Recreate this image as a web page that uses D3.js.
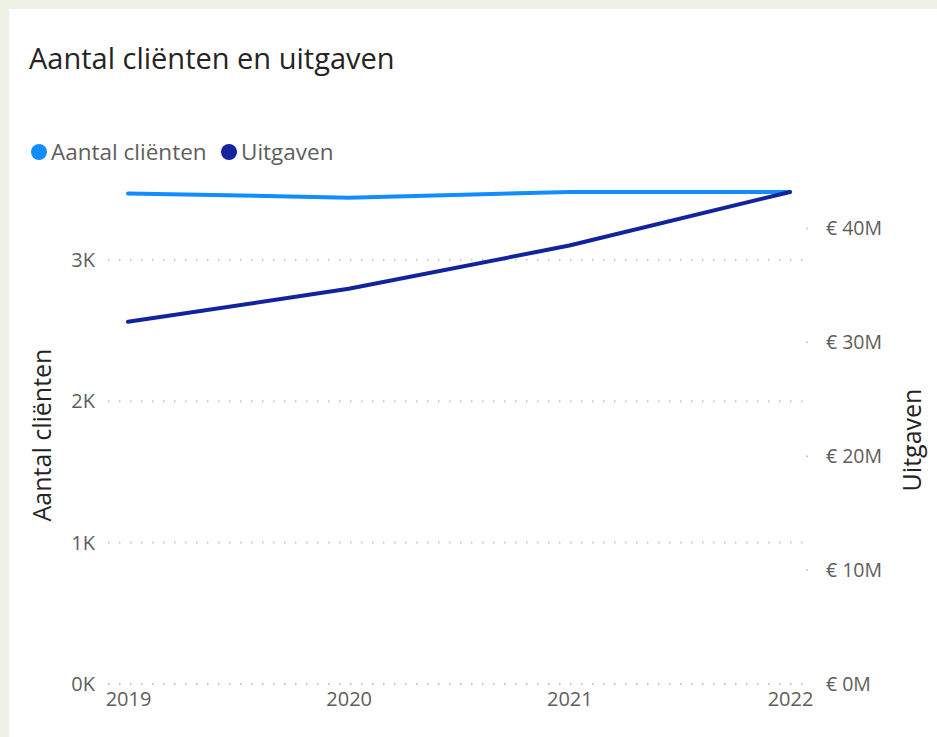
<!DOCTYPE html>
<html>
<head>
<meta charset="utf-8">
<script src="https://cdn.jsdelivr.net/npm/d3@7"></script>
<style>
  html, body { margin: 0; padding: 0; background: #eef2e4; }
  svg { display: block; }
  text { font-family: "Open Sans", "Noto Sans", sans-serif; }
</style>
</head>
<body>
<svg id="chart" width="937" height="737"></svg>
<script>
// ---- data ----
const years = ["2019", "2020", "2021", "2022"];
const clienten = [3470, 3440, 3480, 3480];
const uitgaven = [31.8e6, 34.7e6, 38.5e6, 43.2e6];
const leftTicks = [0, 1000, 2000, 3000];
const leftTickLabels = ["0K", "1K", "2K", "3K"];
const rightTicks = [0, 10e6, 20e6, 30e6, 40e6];
const rightTickLabels = ["€ 0M", "€ 10M", "€ 20M", "€ 30M", "€ 40M"];
const seriesNames = ["Aantal cliënten", "Uitgaven"];
const seriesColors = ["#118DFF", "#12239E"];

const svg = d3.select("#chart");

// panel
svg.append("rect").attr("x", 9).attr("y", 9).attr("width", 940).attr("height", 740).attr("fill", "#ffffff");

// title
svg.append("text").attr("x", 29).attr("y", 69)
  .attr("font-size", 29).attr("fill", "#252423")
  .text("Aantal cliënten en uitgaven");

// legend
const legend = svg.append("g");
const lg1 = legend.append("g");
lg1.append("circle").attr("cx", 39).attr("cy", 152).attr("r", 8).attr("fill", seriesColors[0]);
lg1.append("text").attr("x", 51).attr("y", 160).attr("font-size", 22.5).attr("fill", "#605E5C").text(seriesNames[0]);
const lg2 = legend.append("g");
lg2.append("circle").attr("cx", 229).attr("cy", 152).attr("r", 8).attr("fill", seriesColors[1]);
lg2.append("text").attr("x", 241).attr("y", 160).attr("font-size", 22.5).attr("fill", "#605E5C").text(seriesNames[1]);

// scales
const x = d3.scalePoint().domain(years).range([128, 790]);
const yL = d3.scaleLinear().domain([0, d3.max(clienten)]).range([684, 192]);
const yR = d3.scaleLinear().domain([0, d3.max(uitgaven)]).range([684, 192]);

// gridlines (left axis)
svg.append("g").selectAll("line").data(leftTicks).join("line")
  .attr("x1", 108).attr("x2", 808)
  .attr("y1", d => yL(d)).attr("y2", d => yL(d))
  .attr("stroke", "#C8C6C4").attr("stroke-width", 2)
  .attr("stroke-dasharray", "1.5,9.5");

// right tick stubs
svg.append("g").selectAll("circle").data(rightTicks.slice(1)).join("circle")
  .attr("cx", 807).attr("cy", d => yR(d)).attr("r", 1).attr("fill", "#C8C6C4");

// left axis
const leftAxis = d3.axisLeft(yL).tickValues(leftTicks).tickSize(0).tickPadding(0)
  .tickFormat((d, i) => leftTickLabels[i]);
const gL = svg.append("g").attr("transform", "translate(95,0)").call(leftAxis);
gL.select(".domain").remove();
gL.selectAll("text").attr("font-size", 20).attr("fill", "#605E5C")
  .attr("font-family", "'Open Sans', sans-serif");

// right axis
const rightAxis = d3.axisRight(yR).tickValues(rightTicks).tickSize(0).tickPadding(0)
  .tickFormat((d, i) => rightTickLabels[i]);
const gR = svg.append("g").attr("transform", "translate(826,0)").call(rightAxis);
gR.select(".domain").remove();
gR.selectAll("text").attr("font-size", 19.5).attr("fill", "#605E5C")
  .attr("font-family", "'Open Sans', sans-serif");

// x axis
const xAxis = d3.axisBottom(x).tickSize(0).tickPadding(0);
const gX = svg.append("g").attr("transform", "translate(0,692)").call(xAxis);
gX.select(".domain").remove();
gX.selectAll("text").attr("font-size", 20).attr("fill", "#605E5C")
  .attr("font-family", "'Open Sans', sans-serif");

// axis titles
svg.append("text").attr("transform", "translate(51,435) rotate(-90)")
  .attr("text-anchor", "middle").attr("font-size", 25).attr("fill", "#252423")
  .text("Aantal cliënten");
svg.append("text").attr("transform", "translate(921,440) rotate(-90)")
  .attr("text-anchor", "middle").attr("font-size", 25).attr("fill", "#252423")
  .text("Uitgaven");

// lines
const lineL = d3.line().x((d, i) => x(years[i])).y(d => yL(d));
const lineR = d3.line().x((d, i) => x(years[i])).y(d => yR(d));
svg.append("path").datum(clienten).attr("d", lineL)
  .attr("fill", "none").attr("stroke", seriesColors[0]).attr("stroke-width", 4)
  .attr("stroke-linecap", "round").attr("stroke-linejoin", "round");
svg.append("path").datum(uitgaven).attr("d", lineR)
  .attr("fill", "none").attr("stroke", seriesColors[1]).attr("stroke-width", 4)
  .attr("stroke-linecap", "round").attr("stroke-linejoin", "round");
</script>
</body>
</html>
